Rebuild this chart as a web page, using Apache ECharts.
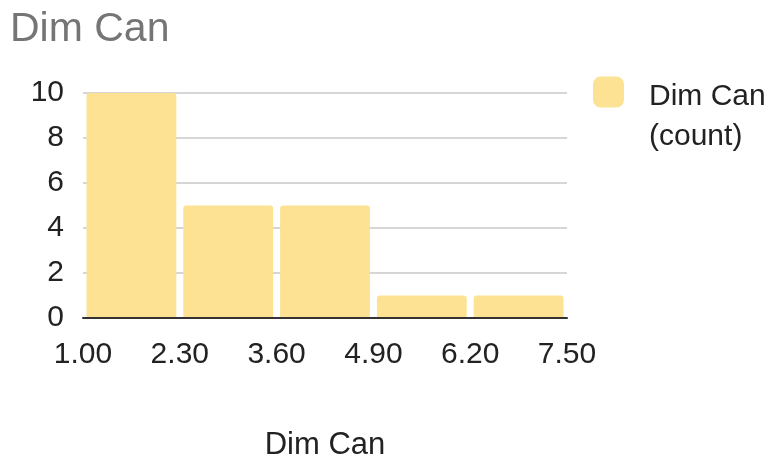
<!DOCTYPE html>
<html>
<head>
<meta charset="utf-8">
<script src="https://cdn.jsdelivr.net/npm/echarts@6/dist/echarts.min.js"></script>
<style>
html, body { margin: 0; padding: 0; background: #fff; }
#chart { width: 774px; height: 458px; }
</style>
</head>
<body>
<div id="chart"></div>
<script>
// histogram bins: edges and counts
const binEdges = [1.00, 2.30, 3.60, 4.90, 6.20, 7.50]
const counts = [10, 5, 5, 1, 1]
const yTicks = [0, 2, 4, 6, 8, 10]
const seriesName = 'Dim Can\n(count)'

const font = 'Arial, "Liberation Sans", sans-serif'
const barColor = '#fde293'

// bin i goes from index i to i + 1 on the x axis
const barData = counts.map((c, i) => [i, c])

const chart = echarts.init(document.getElementById('chart'))
chart.setOption({
    animation: false,
    textStyle: { fontFamily: font },
    title: {
        text: 'Dim Can',
        left: 10,
        top: 9,
        padding: 0,
        textStyle: { fontSize: 41, fontWeight: 'normal', color: '#757575', fontFamily: font },
    },
    legend: {
        data: [seriesName],
        left: 593,
        top: 47,
        padding: 0,
        itemWidth: 31,
        itemHeight: 31,
        icon: 'roundRect',
        // leading spacer line so the icon sits beside the first line
        formatter: (name) => '{g| }\n' + name.split('\n').map((s) => '{t|' + s + '}').join('\n'),
        textStyle: {
            color: '#222',
            fontFamily: font,
            rich: {
                g: { fontSize: 10, lineHeight: 50 },
                t: { fontSize: 30, lineHeight: 40, color: '#222', fontFamily: font, padding: [0, 0, 0, 20] },
            },
        },
    },
    grid: { left: 83, right: 207, top: 93, bottom: 140, containLabel: false, outerBoundsMode: 'none' },
    xAxis: {
        type: 'value',
        min: 0,
        max: binEdges.length - 1,
        interval: 1,
        name: 'Dim Can',
        nameLocation: 'middle',
        nameGap: 112,
        nameTextStyle: { fontSize: 31, color: '#222', fontFamily: font },
        axisLine: { show: true, onZero: false, lineStyle: { color: '#333', width: 2 } },
        axisTick: { show: false },
        splitLine: { show: false },
        axisLabel: {
            fontSize: 30,
            color: '#222',
            margin: 22,
            fontFamily: font,
            formatter: (v) => binEdges[v].toFixed(2),
        },
    },
    yAxis: {
        type: 'value',
        min: yTicks[0],
        max: yTicks[yTicks.length - 1],
        interval: 2,
        axisLine: { show: false },
        axisTick: { show: false },
        splitLine: { lineStyle: { color: '#d6d6d6', width: 2 } },
        axisLabel: { fontSize: 30, color: '#222', margin: 19, fontFamily: font },
    },
    series: [
        {
            name: seriesName,
            type: 'custom',
            itemStyle: { color: barColor },
            encode: { x: 0, y: 1 },
            data: barData,
            renderItem: (params, api) => {
                const i = api.value(0)
                const topLeft = api.coord([i, api.value(1)])
                const bottomRight = api.coord([i + 1, 0])
                const inset = 3.5
                return {
                    type: 'rect',
                    shape: {
                        x: topLeft[0] + inset,
                        y: topLeft[1],
                        width: bottomRight[0] - topLeft[0] - inset * 2,
                        height: bottomRight[1] - topLeft[1] - 1,
                        r: [3, 3, 0, 0],
                    },
                    style: { fill: barColor },
                }
            },
        },
    ],
})
</script>
</body>
</html>
